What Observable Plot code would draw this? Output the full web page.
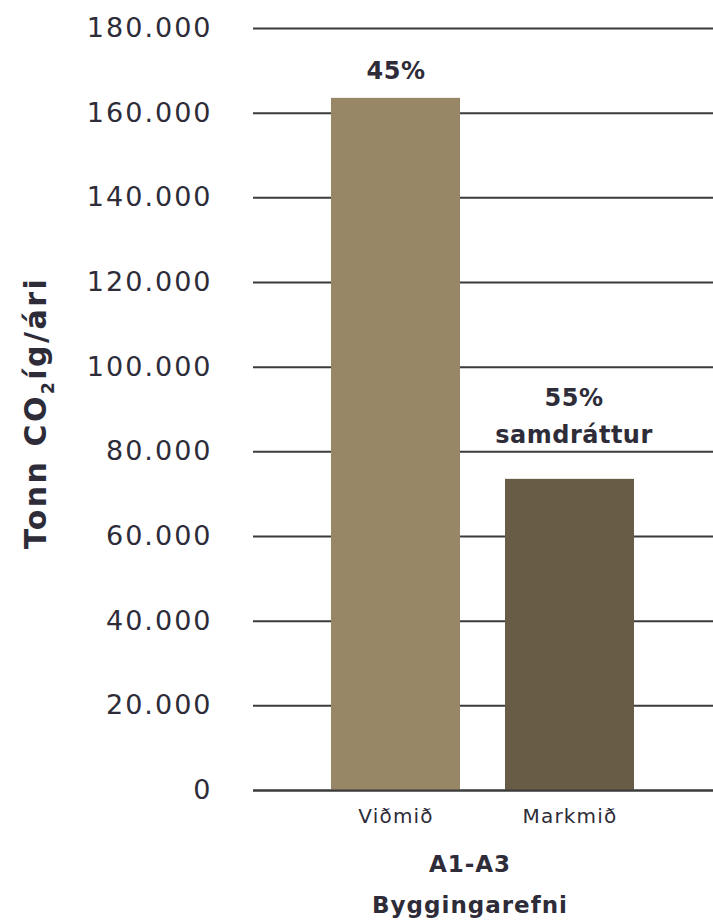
<!DOCTYPE html>
<html>
<head>
<meta charset="utf-8">
<script src="https://cdn.jsdelivr.net/npm/d3@7"></script>
<script src="https://cdn.jsdelivr.net/npm/@observablehq/plot@0.6"></script>
<style>
  html, body { margin: 0; padding: 0; background: #ffffff; }
  #chart svg { display: block; }
</style>
</head>
<body>
<div id="chart"></div>
<script>
// ---- Data ----
const categories = ["Viðmið", "Markmið"];
const values = [163500, 73500];
const barLabels = ["45%", "55%\nsamdráttur"];
const barColors = ["#988766", "#685c47"];
const yTicks = [0, 20000, 40000, 60000, 80000, 100000, 120000, 140000, 160000, 180000];
const groupLabels = ["A1-A3", "Byggingarefni"];
const yLabelMain = "Tonn CO";
const yLabelSub = "2";
const yLabelRest = "íg/ári";

const data = categories.map((c, i) => ({cat: c, value: values[i], label: barLabels[i]}));

const FONT = "'DejaVu Sans', sans-serif";
const TEXT = "#2d2c38";

const fmt = d => d3.format(",")(d).replace(/,/g, ".");

const plot = Plot.plot({
  width: 713,
  height: 924,
  marginLeft: 253,
  marginRight: 0,
  marginTop: 28,
  marginBottom: 134,
  style: {fontFamily: FONT, color: TEXT, background: "#ffffff"},
  x: {domain: categories, paddingInner: 0.257, paddingOuter: 0.443, align: 0.5, label: null},
  y: {domain: [0, 180000], label: null},
  color: {domain: categories, range: barColors},
  marks: [
    Plot.ruleY(yTicks, {stroke: "#3b3b3b", strokeWidth: 2}),
    Plot.barY(data, {x: "cat", y: "value", fill: "cat"}),
    Plot.ruleY([0], {stroke: "#3b3b3b", strokeWidth: 2}),
    Plot.axisY(yTicks, {tickSize: 0, tickPadding: 41, tickFormat: fmt, fontSize: 27, fill: TEXT}),
    Plot.axisX({tickSize: 0, tickPadding: 18, fontSize: 20, fill: TEXT, label: null}),
    Plot.text(data.slice(0, 1), {x: "cat", y: "value", text: "label", dy: -19, lineAnchor: "bottom", fontSize: 24, fontWeight: "bold", fill: TEXT}),
    Plot.text(data.slice(1), {x: "cat", y: "value", text: "label", dx: 4, dy: -36, lineAnchor: "bottom", fontSize: 24, fontWeight: "bold", fill: TEXT, lineHeight: 1.55})
  ]
});

document.getElementById("chart").appendChild(plot);

const svg = d3.select(plot);
svg.selectAll('g[aria-label="y-axis tick label"] text').attr("letter-spacing", "2px");
svg.selectAll('g[aria-label="x-axis tick label"] text').attr("letter-spacing", "1.2px");
svg.selectAll('g[aria-label="text"] text').attr("letter-spacing", "0.5px");

// y-axis title with subscript
const yl = svg.append("text")
  .attr("transform", "translate(46,413) rotate(-90)")
  .attr("text-anchor", "middle")
  .attr("font-family", FONT)
  .attr("font-size", 30)
  .attr("font-weight", "bold")
  .attr("letter-spacing", "2.5px")
  .attr("fill", TEXT);
yl.append("tspan").text(yLabelMain);
yl.append("tspan").attr("font-size", 17).attr("dy", 8).text(yLabelSub);
yl.append("tspan").attr("dy", -8).text(yLabelRest);

// group labels under the x axis
svg.append("g")
  .attr("font-family", FONT)
  .attr("font-size", 23)
  .attr("font-weight", "bold")
  .attr("fill", TEXT)
  .attr("text-anchor", "middle")
  .attr("letter-spacing", "1px")
  .selectAll("text")
  .data(groupLabels)
  .join("text")
  .attr("x", 470)
  .attr("y", (d, i) => 872 + i * 41)
  .text(d => d);
</script>
</body>
</html>
